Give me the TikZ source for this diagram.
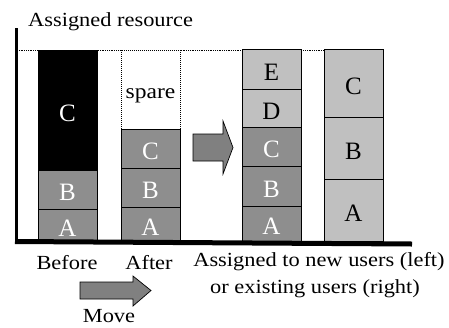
\documentclass[tikz,border=0pt]{standalone}
\usepackage{fontspec}
\setmainfont{Liberation Serif}
\newfontfamily\labfont[FakeStretch=1.12]{Liberation Serif}
\definecolor{dg}{HTML}{8E8E8E}
\definecolor{lg}{HTML}{C0C0C0}
\definecolor{ag}{HTML}{808080}
\tikzset{
  blk/.style={draw=black, line width=0.8pt, rectangle, inner sep=0pt, outer sep=0pt},
  letr/.style={font=\fontsize{25}{25}\selectfont, inner sep=0pt},
  lab/.style={font=\labfont\fontsize{20}{24}\selectfont, inner sep=0pt},
  bigarrow/.style={draw=black, line width=0.7pt, fill=ag, line join=miter}
}
\newcommand\mkblock[8]{%
  \node[blk, fill=#6, minimum width={(#4)-(#2)}, minimum height={(#5)-(#3)}] (#1) at ({((#2)+(#4))/2},{((#3)+(#5))/2}) {};
  \node[letr, text=#7] (#1t) at ([yshift=-3pt]#1.center) {#8};}
\begin{document}
\begin{tikzpicture}[x=1pt,y=-1pt]
\useasboundingbox (0,0) rectangle (449,327);
% dotted top line
\draw[densely dotted, line width=0.8pt] (17,50) -- (324,50);
% column 1: before
\mkblock{aC}{38}{50}{97}{170}{black}{white}{C}
\mkblock{aB}{38}{170}{97}{209}{dg}{white}{B}
\mkblock{aA}{38}{209}{97}{241}{dg}{white}{A}
% column 2: after
\node[blk, draw=none, fill=white, minimum width=59, minimum height=79] (sp) at (150.5,89.5) {};
\draw[densely dotted, line width=1pt] (sp.north west) rectangle (sp.south east);
\node[font=\labfont\fontsize{21}{24}\selectfont, inner sep=0pt, anchor=base] (spt) at (150.5,98) {spare};
\mkblock{bC}{121}{129}{180}{168}{dg}{white}{C}
\mkblock{bB}{121}{168}{180}{207}{dg}{white}{B}
\mkblock{bA}{121}{207}{180}{241}{dg}{white}{A}
% column 3
\mkblock{cE}{242}{49}{301}{89}{lg}{black}{E}
\mkblock{cD}{242}{89}{301}{127}{lg}{black}{D}
\mkblock{cC}{242}{127}{301}{166}{dg}{white}{C}
\mkblock{cB}{242}{166}{301}{206}{dg}{white}{B}
\mkblock{cA}{242}{206}{301}{241}{dg}{white}{A}
% column 4
\mkblock{dC}{324}{49}{383}{117}{lg}{black}{C}
\mkblock{dB}{324}{117}{383}{179}{lg}{black}{B}
\mkblock{dA}{324}{179}{383}{241}{lg}{black}{A}
% axes
\draw[line width=3pt] (16.5,28) -- (16.5,244);
\draw[line width=5pt] (15,241.5) -- (412,244);
% middle arrow
\draw[bigarrow] (193,134) -- (223,134) -- (223,121) -- (233,147.5) -- (223,174) -- (223,161) -- (193,161) -- cycle;
% move arrow
\draw[bigarrow] (80,282) -- (133,282) -- (133,276) -- (151,290.5) -- (133,306) -- (133,299) -- (80,299) -- cycle;
% labels
\node[lab, anchor=base west] (title) at (28,26) {Assigned resource};
\node[lab, anchor=base] (before) at (67,269) {Before};
\node[lab, anchor=base] (after) at (149,269) {After};
\node[lab, anchor=base] (new) at (319,266) {Assigned to new users (left)};
\node[lab, anchor=base] (old) at (315,293) {or existing users (right)};
\node[lab, anchor=base] (move) at (109,322) {Move};
\end{tikzpicture}
\end{document}
